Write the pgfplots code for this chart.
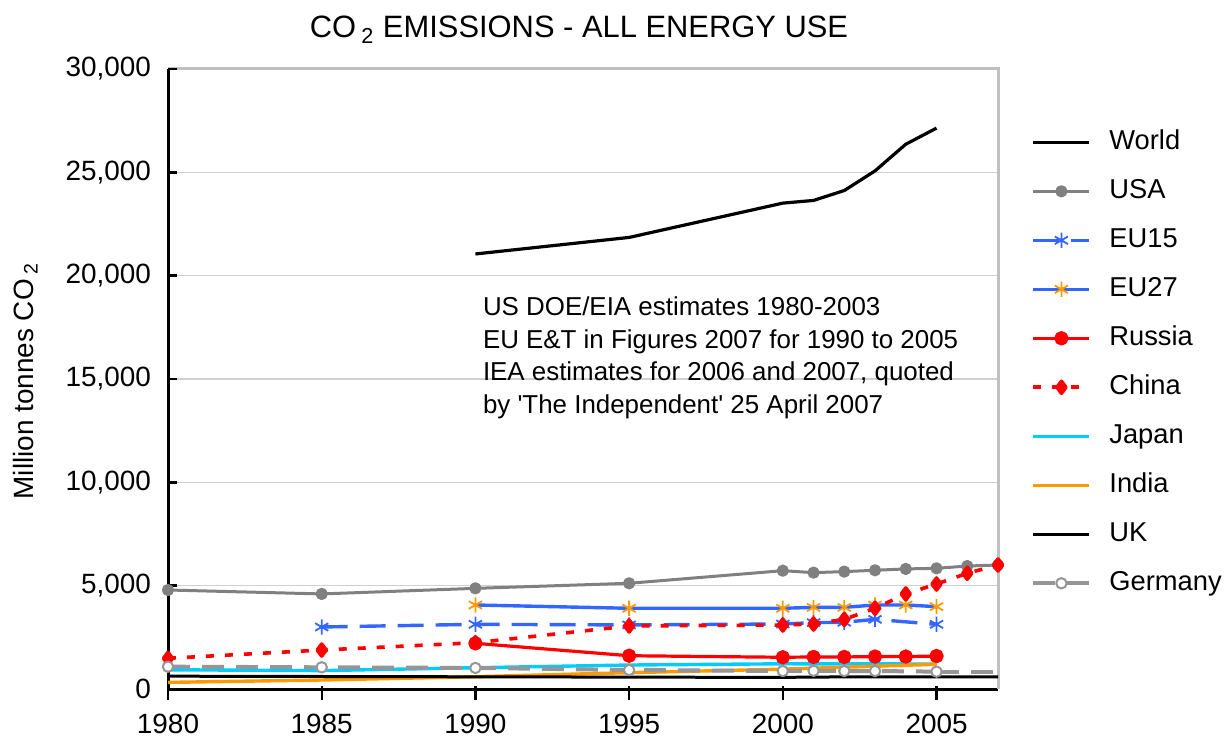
\documentclass[border=0pt]{standalone}
\usepackage{pgfplots}
\pgfplotsset{compat=1.18}
\usepackage{fontspec}
\setmainfont{Liberation Sans}
\definecolor{usagray}{HTML}{808080}
\definecolor{eublue}{HTML}{3366FF}
\definecolor{eorange}{HTML}{FF9900}
\definecolor{jcyan}{HTML}{00CCFF}
\definecolor{germgray}{HTML}{969696}
\definecolor{gridgray}{HTML}{D0D0D0}
\definecolor{framegray}{HTML}{C0C0C0}
\begin{document}
\begin{tikzpicture}
\begin{axis}[
  at={(84bp,25.5bp)}, anchor=south west,
  scale only axis, width=415bp, height=310bp,
  xmin=1980, xmax=2007, ymin=0, ymax=30000,
  axis lines*=left,
  axis line style={line width=1.5bp, black},
  clip=false,
  xtick={1980,1985,...,2005},
  ytick={0,5000,...,30000},
  scaled y ticks=false,
  tick align=outside, major tick length=5bp,
  tick style={draw=none},
  ymajorgrids, grid style={gridgray, line width=0.6bp},
  /pgf/number format/assume math mode=true,
  xticklabel style={font=\fontsize{14}{16}\selectfont, yshift=-3.8bp, /pgf/number format/1000 sep={}},
  yticklabel style={font=\fontsize{14}{16}\selectfont, /pgf/number format/fixed, /pgf/number format/1000 sep={,}},
  every axis plot/.append style={line join=round},
  legend image code/.code={\draw[mark repeat=2,mark phase=2,#1] plot coordinates {(0cm,0cm) (0.494cm,0cm) (0.988cm,0cm)};},
  legend cell align=left,
  legend style={draw=none, fill=none, at={(1,1)}, anchor=north west, xshift=16.5bp, yshift=-30bp,
    inner sep=0pt, row sep=11.6bp, column sep=9bp, font=\fontsize{13.7}{16}\selectfont,
    nodes={inner sep=0pt, text height=10bp, text depth=2.9bp}},
]
\draw[framegray, line width=1.5bp] (rel axis cs:0,1) -- (rel axis cs:1,1) -- (rel axis cs:1,0);
\pgfplotsinvokeforeach{1980,1985,1990,1995,2000,2005}{\draw[black, line width=1.2bp] ([yshift=1.5bp]axis cs:#1,0) -- ([yshift=-5.5bp]axis cs:#1,0);}
\pgfplotsinvokeforeach{5000,10000,15000,20000,25000,30000}{\draw[black, line width=1.2bp] (axis cs:1980,#1) -- ([xshift=4.5bp]axis cs:1980,#1);}

\addplot[black, line width=1.6bp] coordinates {(1990,21050)(1995,21850)(2000,23510)(2001,23640)(2002,24120)(2003,25070)(2004,26360)(2005,27140)};
\addlegendentry{World}
\addplot[usagray, line width=1.5bp, mark=*, mark size=2.3bp, mark options={fill=usagray, draw=usagray}] coordinates {(1980,4790)(1985,4600)(1990,4870)(1995,5115)(2000,5725)(2001,5630)(2002,5680)(2003,5745)(2004,5810)(2005,5840)(2006,5950)(2007,6000)};
\addlegendentry{USA}
\addplot[eublue, line width=1.7bp, dash pattern=on 13bp off 6bp, mark=asterisk, mark size=3.8bp, mark options={solid, line width=0.9bp}] coordinates {(1985,3000)(1990,3130)(1995,3100)(2000,3145)(2001,3210)(2002,3230)(2003,3370)(2005,3130)};
\addlegendentry{EU15}
\addplot[eublue, line width=1.7bp, mark=asterisk, mark size=3.8bp, mark options={eorange, line width=0.9bp}] coordinates {(1990,4065)(1995,3905)(2000,3905)(2001,3950)(2002,3950)(2003,4065)(2004,4065)(2005,3985)};
\addlegendentry{EU27}
\addplot[red, line width=1.6bp, mark=*, mark size=2.8bp, mark options={fill=red, draw=red}] coordinates {(1990,2210)(1995,1610)(2000,1535)(2001,1550)(2002,1550)(2003,1570)(2004,1570)(2005,1595)};
\addlegendentry{Russia}
\addplot[red, line width=1.8bp, dash pattern=on 4bp off 5.5bp, mark=diamond*, mark size=3bp, mark options={solid, fill=red, draw=red}] coordinates {(1980,1485)(1985,1885)(1990,2240)(1995,3050)(2000,3095)(2001,3145)(2002,3370)(2003,3905)(2004,4600)(2005,5080)(2006,5600)(2007,6000)};
\addlegendentry{China}
\addplot[jcyan, line width=1.7bp] coordinates {(1980,930)(1985,890)(1990,1030)(1995,1160)(2000,1220)(2005,1210)};
\addlegendentry{Japan}
\addplot[eorange, line width=1.7bp] coordinates {(1980,320)(1985,435)(1990,595)(1995,790)(2000,960)(2005,1195)};
\addlegendentry{India}
\addplot[black, line width=1.5bp] coordinates {(1980,620)(1990,590)(2000,560)(2001,580)(2005,585)(2007,585)};
\addlegendentry{UK}
\addplot[germgray, line width=2bp, dash pattern=on 11bp off 6bp, mark=*, mark size=2.6bp, mark options={solid, fill=white, draw=germgray, line width=1bp}] coordinates {(1980,1080)(1985,1050)(1990,1020)(1995,920)(2000,870)(2001,880)(2002,870)(2003,870)(2005,840)};
\addlegendentry{Germany}
\addplot[germgray, line width=2bp, dash pattern=on 11bp off 6bp, forget plot] coordinates {(2005,840)(2007,840)};
\end{axis}
\node[font=\fontsize{15.5}{18}\selectfont, anchor=base, inner sep=0pt] at (289.5bp,351bp) {CO\,\textsubscript{2} EMISSIONS - ALL ENERGY USE};
\node[font=\fontsize{14}{16}\selectfont, anchor=base, inner sep=0pt, rotate=90] at (16.7bp,179.5bp) {Million tonnes CO\,\textsubscript{2}};
\begin{scope}[every node/.style={font=\fontsize{13}{16}\selectfont, anchor=base west, inner sep=0pt}]
\node at (241.3bp,212.15bp) {US DOE/EIA estimates 1980-2003};
\node at (241.3bp,195.9bp) {EU E\&T in Figures 2007 for 1990 to 2005};
\node at (241.3bp,179.65bp) {IEA estimates for 2006 and 2007, quoted};
\node at (241.3bp,163.4bp) {by \textquotesingle The Independent\textquotesingle\ 25 April 2007};
\end{scope}
\pgfresetboundingbox
\path[use as bounding box] (0,0) rectangle (612bp,370bp);
\end{tikzpicture}
\end{document}
